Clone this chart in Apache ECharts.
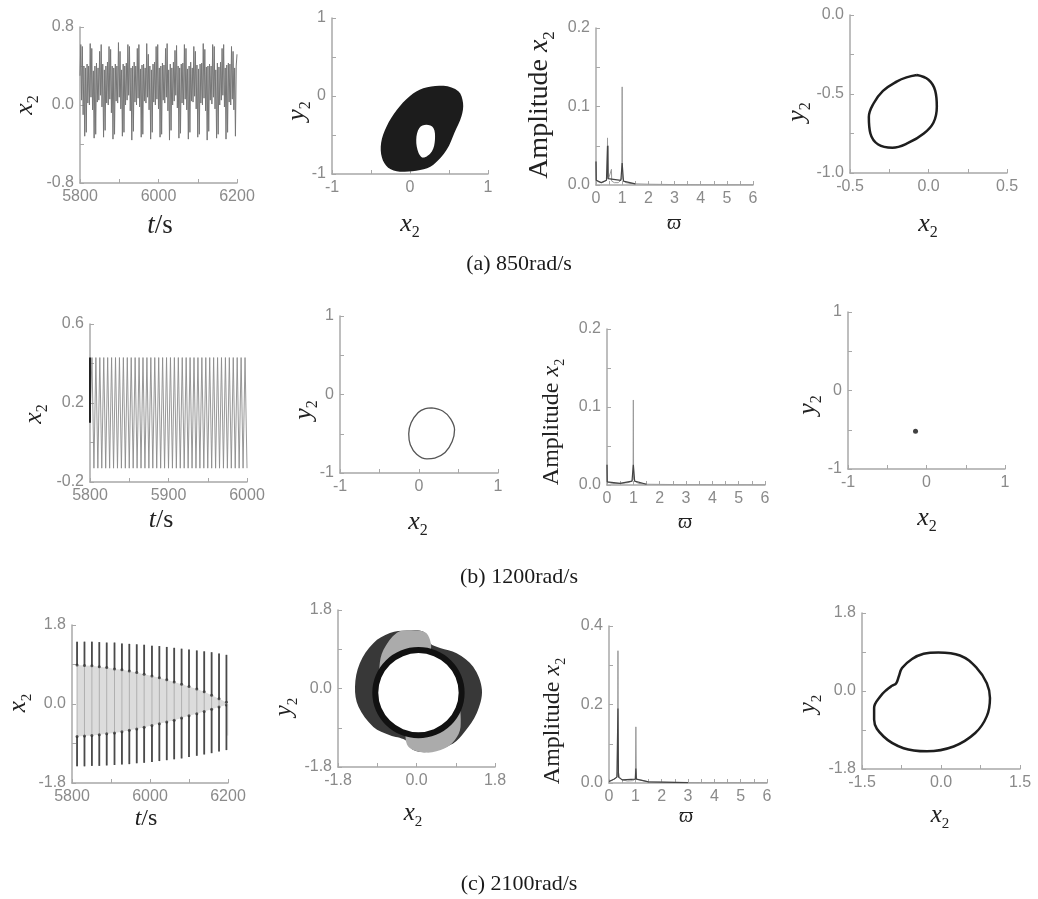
<!DOCTYPE html>
<html><head><meta charset="utf-8">
<script src="https://cdn.jsdelivr.net/npm/echarts@6.0.0/dist/echarts.min.js"></script>
<style>html,body{margin:0;padding:0;background:#fff}#c{width:1038px;height:899px}</style>
</head><body><div id="c"></div>
<script>
// ---------- DATA ----------
const captions = ['(a) 850rad/s', '(b) 1200rad/s', '(c) 2100rad/s'];

// (a) time history x2(t)
const aT = [5800,5802,5804,5806,5808,5810,5812,5814,5816,5818,
5820,5822,5824,5826,5828,5830,5832,5834,5836,5838,
5840,5842,5844,5846,5848,5850,5852,5854,5856,5858,
5860,5862,5864,5866,5868,5870,5872,5874,5876,5878,
5880,5882,5884,5886,5888,5890,5892,5894,5896,5898,
5900,5902,5904,5906,5908,5910,5912,5914,5916,5918,
5920,5922,5924,5926,5928,5930,5932,5934,5936,5938,
5940,5942,5944,5946,5948,5950,5952,5954,5956,5958,
5960,5962,5964,5966,5968,5970,5972,5974,5976,5978,
5980,5982,5984,5986,5988,5990,5992,5994,5996,5998,
6000,6002,6004,6006,6008,6010,6012,6014,6016,6018,
6020,6022,6024,6026,6028,6030,6032,6034,6036,6038,
6040,6042,6044,6046,6048,6050,6052,6054,6056,6058,
6060,6062,6064,6066,6068,6070,6072,6074,6076,6078,
6080,6082,6084,6086,6088,6090,6092,6094,6096,6098,
6100,6102,6104,6106,6108,6110,6112,6114,6116,6118,
6120,6122,6124,6126,6128,6130,6132,6134,6136,6138,
6140,6142,6144,6146,6148,6150,6152,6154,6156,6158,
6160,6162,6164,6166,6168,6170,6172,6174,6176,6178,
6180,6182,6184,6186,6188,6190,6192,6194,6196,6198,6200];
const aV = [0.30,0.62,0.05,0.60,-0.10,0.40,-0.32,0.38,-0.28,0.42,
0.02,0.40,0.00,0.63,0.08,0.58,-0.05,0.35,-0.34,0.40,
-0.30,0.43,0.03,0.38,0.05,0.55,0.10,0.62,-0.02,0.42,
-0.33,0.36,-0.26,0.40,0.02,0.44,0.00,0.60,0.06,0.57,
-0.08,0.40,-0.35,0.38,-0.30,0.42,0.04,0.40,0.02,0.64,
0.08,0.55,-0.04,0.36,-0.32,0.42,-0.28,0.40,0.00,0.43,
0.05,0.62,0.10,0.60,-0.06,0.38,-0.36,0.40,-0.27,0.44,
0.03,0.40,0.00,0.58,0.07,0.62,-0.02,0.37,-0.33,0.41,
-0.30,0.42,0.04,0.38,0.02,0.63,0.08,0.52,-0.05,0.40,
-0.35,0.36,-0.28,0.42,0.03,0.44,0.00,0.60,0.06,0.62,
-0.04,0.38,-0.33,0.40,-0.30,0.43,0.05,0.41,0.02,0.58,
0.08,0.63,-0.06,0.36,-0.36,0.42,-0.26,0.38,0.00,0.44,
0.04,0.56,0.10,0.61,-0.03,0.40,-0.34,0.38,-0.29,0.42,
0.02,0.43,0.00,0.62,0.06,0.58,-0.05,0.37,-0.35,0.40,
-0.28,0.44,0.04,0.38,0.03,0.60,0.09,0.55,-0.04,0.41,
-0.33,0.37,-0.30,0.42,0.02,0.43,0.00,0.63,0.07,0.57,
-0.06,0.39,-0.36,0.40,-0.27,0.42,0.05,0.40,0.01,0.62,
0.08,0.60,-0.04,0.36,-0.34,0.43,-0.30,0.39,0.00,0.44,
0.05,0.58,0.10,0.62,-0.02,0.38,-0.35,0.41,-0.28,0.43,
0.03,0.42,0.00,0.60,0.06,0.55,-0.05,0.38,-0.32,0.40,0.52];

// (a) phase portrait (torus band)
const aTorusOut = [[0.17,0.10],[0.43,0.13],[0.62,0.06],[0.68,-0.09],[0.66,-0.26],[0.57,-0.47],[0.47,-0.69],[0.30,-0.88],[0.13,-0.95],[-0.13,-0.97],[-0.28,-0.92],[-0.36,-0.79],[-0.37,-0.60],[-0.30,-0.39],[-0.17,-0.18],[0.0,0.0]];
const aTorusIn = [[0.21,-0.37],[0.30,-0.41],[0.32,-0.56],[0.28,-0.71],[0.17,-0.79],[0.11,-0.73],[0.08,-0.56],[0.12,-0.41]];

// (a) spectrum
const aSpec = [[0,0.030],[0.01,0.006],[0.1,0.004],[0.2,0.003],[0.3,0.004],[0.4,0.006],[0.43,0.012],[0.44,0.060],[0.45,0.010],[0.47,0.050],[0.48,0.008],[0.55,0.006],[0.59,0.020],[0.60,0.005],[0.7,0.003],[0.85,0.003],[0.95,0.006],[0.99,0.010],[1.00,0.125],[1.01,0.010],[1.05,0.005],[1.15,0.003],[1.3,0.002],[1.5,0.0015],[2.0,0.001],[2.5,0.0008],[3.0,0.0005],[4.0,0.0003],[6.0,0.0002]];
const aSpecDark = [[0,0.030],[0.01,0.006],[0.2,0.003],[0.4,0.006],[0.44,0.050],[0.46,0.008],[0.95,0.006],[1.00,0.028],[1.05,0.005],[1.5,0.0015]];

// (a) Poincare section
const aLoop = [[-0.074,-0.38],[0.0,-0.41],[0.043,-0.48],[0.053,-0.58],[0.032,-0.68],[-0.03,-0.75],[-0.13,-0.81],[-0.23,-0.84],[-0.32,-0.82],[-0.37,-0.75],[-0.38,-0.645],[-0.35,-0.56],[-0.29,-0.48],[-0.20,-0.42],[-0.14,-0.395]];

// (b) time history
const bT = [5800,5802.5,5805,5807.5,5810,5812.5,5815,5817.5,5820,5822.5,
5825,5827.5,5830,5832.5,5835,5837.5,5840,5842.5,5845,5847.5,
5850,5852.5,5855,5857.5,5860,5862.5,5865,5867.5,5870,5872.5,
5875,5877.5,5880,5882.5,5885,5887.5,5890,5892.5,5895,5897.5,
5900,5902.5,5905,5907.5,5910,5912.5,5915,5917.5,5920,5922.5,
5925,5927.5,5930,5932.5,5935,5937.5,5940,5942.5,5945,5947.5,
5950,5952.5,5955,5957.5,5960,5962.5,5965,5967.5,5970,5972.5,
5975,5977.5,5980,5982.5,5985,5987.5,5990,5992.5,5995,5997.5,6000];
const bV = [0.10,0.43,-0.13,0.43,-0.13,0.43,-0.13,0.43,-0.13,0.43,
-0.13,0.43,-0.13,0.43,-0.13,0.43,-0.13,0.43,-0.13,0.43,
-0.13,0.43,-0.13,0.43,-0.13,0.43,-0.13,0.43,-0.13,0.43,
-0.13,0.43,-0.13,0.43,-0.13,0.43,-0.13,0.43,-0.13,0.43,
-0.13,0.43,-0.13,0.43,-0.13,0.43,-0.13,0.43,-0.13,0.43,
-0.13,0.43,-0.13,0.43,-0.13,0.43,-0.13,0.43,-0.13,0.43,
-0.13,0.43,-0.13,0.43,-0.13,0.43,-0.13,0.43,-0.13,0.43,
-0.13,0.43,-0.13,0.43,-0.13,0.43,-0.13,0.43,-0.13,0.43,-0.13];
const bStart = [[5800,0.10],[5800,0.43]];

// (b) phase portrait, spectrum, Poincare point
const bCircle = [[0.16,-0.17],[0.30,-0.21],[0.40,-0.31],[0.45,-0.45],[0.42,-0.60],[0.33,-0.74],[0.20,-0.81],[0.10,-0.82],[-0.03,-0.76],[-0.11,-0.64],[-0.13,-0.50],[-0.10,-0.36],[-0.01,-0.23],[0.08,-0.18]];
const bSpec = [[0,0.026],[0.01,0.004],[0.2,0.002],[0.5,0.002],[0.8,0.003],[0.95,0.005],[0.99,0.008],[1.00,0.109],[1.01,0.008],[1.05,0.005],[1.2,0.002],[1.5,0.001],[2.0,0.0008],[3.0,0.0004],[6.0,0.0002]];
const bSpecDark = [[0,0.026],[0.01,0.004],[0.5,0.002],[0.95,0.005],[1.00,0.026],[1.05,0.005],[1.5,0.001]];
const bPoint = [[-0.14,-0.52]];

// (c) time history: cycle times, peak/trough ends and the two dotted envelopes
const cT = [5813,5832,5851,5870,5889,5909,5928,5947,5966,5985,6005,6024,6043,6062,6081,6100,6120,6139,6158,6177,6196];
const cTop = [1.42,1.42,1.42,1.41,1.40,1.40,1.38,1.37,1.36,1.35,1.33,1.32,1.30,1.28,1.26,1.24,1.22,1.20,1.18,1.15,1.12];
const cUp = [0.89,0.88,0.87,0.85,0.83,0.80,0.78,0.75,0.72,0.68,0.64,0.60,0.55,0.50,0.45,0.40,0.34,0.28,0.20,0.12,0.04];
const cLow = [-0.74,-0.73,-0.72,-0.70,-0.68,-0.66,-0.63,-0.60,-0.57,-0.53,-0.49,-0.45,-0.41,-0.37,-0.32,-0.27,-0.22,-0.17,-0.12,-0.07,-0.02];
const cBot = [-1.42,-1.42,-1.41,-1.41,-1.40,-1.39,-1.38,-1.37,-1.35,-1.34,-1.32,-1.30,-1.28,-1.26,-1.24,-1.21,-1.18,-1.15,-1.12,-1.08,-1.05];
const cTail = [[6199,0.0],[6199,-0.72]];

// (c) phase portrait regions
const cRingOut = [[-0.22,1.33],[0.16,1.30],[0.31,1.04],[0.54,0.93],[0.92,0.81],[1.30,0.50],[1.50,-0.03],[1.38,-0.57],[1.10,-1.00],[0.84,-1.26],[0.31,-1.45],[-0.07,-1.41],[-0.26,-1.18],[-0.61,-1.07],[-0.99,-0.88],[-1.33,-0.42],[-1.41,0.04],[-1.30,0.58],[-0.99,1.04],[-0.61,1.27]];
const cLightTop = [[-0.45,1.28],[-0.15,1.33],[0.195,1.29],[0.31,1.11],[0.31,0.88],[-0.07,0.88],[-0.45,0.79],[-0.70,0.58],[-0.82,0.195],[-0.85,0.50],[-0.76,0.88]];
const cLightBot = [[-0.24,-0.89],[-0.19,-1.33],[0.23,-1.47],[0.65,-1.37],[0.88,-1.18],[1.01,-0.88],[0.96,-0.26],[0.84,-0.57],[0.61,-0.91],[0.23,-1.10],[-0.11,-1.07]];
const cHole = [[1.035,-0.095],[0.96,0.28],[0.745,0.595],[0.424,0.806],[0.045,0.88],[-0.334,0.806],[-0.655,0.595],[-0.87,0.28],[-0.945,-0.095],[-0.87,-0.47],[-0.655,-0.785],[-0.334,-0.996],[0.045,-1.07],[0.424,-0.996],[0.745,-0.785],[0.96,-0.47]];

// (c) spectrum
const cSpec = [[0,0.004],[0.1,0.006],[0.2,0.010],[0.3,0.015],[0.33,0.030],[0.34,0.337],[0.35,0.030],[0.4,0.015],[0.5,0.008],[0.7,0.005],[0.9,0.006],[1.00,0.010],[1.02,0.143],[1.04,0.010],[1.1,0.006],[1.5,0.003],[2.0,0.002],[2.5,0.0015],[3.0,0.001],[6.0,0.0005]];
const cSpecDark = [[0,0.004],[0.2,0.010],[0.3,0.015],[0.34,0.19],[0.36,0.015],[0.5,0.008],[1.00,0.010],[1.02,0.037],[1.04,0.010],[1.5,0.003],[3.0,0.001]];

// (c) Poincare section
const cLoop = [[-0.05,0.89],[0.36,0.82],[0.68,0.53],[0.87,0.18],[0.93,-0.16],[0.87,-0.58],[0.65,-0.97],[0.24,-1.28],[-0.27,-1.39],[-0.71,-1.32],[-1.09,-1.05],[-1.27,-0.66],[-1.27,-0.39],[-1.15,-0.12],[-1.03,0.03],[-0.93,0.12],[-0.85,0.18],[-0.80,0.34],[-0.74,0.53],[-0.55,0.74],[-0.33,0.86]];

// ---------- LAYOUT ----------
// grid [left, top, width, height]; axis [min, max, tick step, label step, decimals]
const panels = [
 {g:[80,27,157,156],  x:[5800,6200,100,200,0], y:[-0.8,0.8,0.4,0.8,1]},
 {g:[332,18,156,156], x:[-1,1,0.5,1,0],        y:[-1,1,0.5,1,0]},
 {g:[596,28,157,157], x:[0,6,0.5,1,0],         y:[0,0.2,0.05,0.1,1]},
 {g:[850,15,157,158], x:[-0.5,0.5,0.25,0.5,1], y:[-1,0,0.25,0.5,1]},
 {g:[90,324,157,158], x:[5800,6000,50,100,0],  y:[-0.2,0.6,0.2,0.4,1]},
 {g:[340,316,158,157],x:[-1,1,0.5,1,0],        y:[-1,1,0.5,1,0]},
 {g:[607,329,158,156],x:[0,6,0.5,1,0],         y:[0,0.2,0.05,0.1,1]},
 {g:[848,312,157,157],x:[-1,1,0.5,1,0],        y:[-1,1,0.5,1,0]},
 {g:[72,625,156,158], x:[5800,6200,100,200,0], y:[-1.8,1.8,0.9,1.8,1]},
 {g:[338,610,157,157],x:[-1.8,1.8,0.9,1.8,1],  y:[-1.8,1.8,0.9,1.8,1]},
 {g:[609,626,158,157],x:[0,6,0.5,1,0],         y:[0,0.4,0.1,0.2,1]},
 {g:[862,613,158,156],x:[-1.5,1.5,0.75,1.5,1], y:[-1.8,1.8,0.9,1.8,1]}
];
const nameLayout = [
 [25,105,1,'x2',26],[160,226,0,'ts',27],[297,111,1,'y2',26],[410,224,0,'x2',26],[540,105,1,'amp',28],[674,224,0,'w',20],[797,112,1,'y2',26],[928,224,0,'x2',26],
 [34,414,1,'x2',26],[161,520,0,'ts',26],[304,410,1,'y2',26],[418,522,0,'x2',26],[552,422,1,'amp',24],[685,523,0,'w',20],[808,405,1,'y2',26],[927,518,0,'x2',26],
 [18,703,1,'x2',25],[146,819,0,'ts',24],[284,707,1,'y2',25],[413,813,0,'x2',25],[553,721,1,'amp',24],[686,817,0,'w',20],[808,704,1,'y2',25],[940,815,0,'x2',25]
];
const captionY = [264,577,884];

// ---------- BUILD ----------
const SERIF = "'Liberation Serif','DejaVu Serif',serif";
const SANS = "'Liberation Sans',Arial,sans-serif";
function mkAxis(i, a) {
  const [min,max,step,lab,dec] = a;
  return {
    type:'value', gridIndex:i, min, max, interval:step,
    splitLine:{show:false},
    axisLine:{onZero:false, lineStyle:{color:'#a8a8a8', width:1.5}},
    axisTick:{inside:true, length:4, lineStyle:{color:'#a8a8a8', width:1}},
    axisLabel:{color:'#8a8a8a', fontSize:16, fontFamily:SANS, margin:6,
      showMinLabel:true, showMaxLabel:true,
      formatter:function(v){
        const k=(v-min)/lab;
        if (Math.abs(k-Math.round(k))>1e-6) return '';
        if (Math.abs(v)<1e-9) v=0;
        return v.toFixed(dec);
      }}
  };
}
const grids = panels.map(p=>({left:p.g[0], top:p.g[1], width:p.g[2], height:p.g[3]}));
const xAxes = panels.map((p,i)=>mkAxis(i,p.x));
const yAxes = panels.map((p,i)=>mkAxis(i,p.y));

function line(i, data, color, w, extra) {
  return Object.assign({type:'line', xAxisIndex:i, yAxisIndex:i, data, symbol:'none', showSymbol:false,
    lineStyle:{color, width:w}, silent:true, animation:false}, extra||{});
}
function poly(i, pts, fill, stroke, lw, sm) {
  return {type:'custom', xAxisIndex:i, yAxisIndex:i, data:pts, silent:true, animation:false,
    renderItem:function(params, api){
      if (params.dataIndex!==0) return null;
      const P = pts.map(p=>api.coord(p));
      return {type:'polygon', shape:{points:P, smooth:sm==null?0.35:sm},
        style:{fill:fill, stroke:stroke||null, lineWidth:lw||0}};
    }};
}
function segs(i, data, color, w) {
  return {type:'custom', xAxisIndex:i, yAxisIndex:i, data, silent:true, animation:false,
    encode:{x:0, y:[1,2]},
    renderItem:function(params, api){
      const a = api.coord([api.value(0), api.value(1)]);
      const b = api.coord([api.value(0), api.value(2)]);
      return {type:'line', shape:{x1:a[0],y1:a[1],x2:b[0],y2:b[1]}, style:{stroke:color, lineWidth:w}};
    }};
}
const closed = arr => arr.concat([arr[0]]);

const series = [
  // (a)
  line(0, aT.map((t,k)=>[t,aV[k]]), '#767676', 1),
  poly(1, aTorusOut, '#1c1c1c'),
  poly(1, aTorusIn, '#ffffff'),
  line(2, aSpec, '#9a9a9a', 1),
  line(2, aSpecDark, '#444', 1.2),
  line(3, closed(aLoop), '#1e1e1e', 2.5, {smooth:0.4}),
  // (b)
  line(4, bT.map((t,k)=>[t,bV[k]]), '#8c8c8c', 0.9),
  line(4, bStart, '#222', 2),
  line(5, closed(bCircle), '#555', 1.3, {smooth:0.4}),
  line(6, bSpec, '#9a9a9a', 1),
  line(6, bSpecDark, '#444', 1.2),
  {type:'scatter', xAxisIndex:7, yAxisIndex:7, data:bPoint, symbolSize:5, itemStyle:{color:'#111'}, silent:true, animation:false},
  // (c)
  poly(8, cT.map((t,k)=>[t,cUp[k]]).concat(cT.map((t,k)=>[t,cLow[k]]).reverse()), '#dcdcdc', null, 0, 0),
  segs(8, cT.map((t,k)=>[t,cBot[k],cTop[k]]), '#b0b0b0', 1),
  segs(8, cT.map((t,k)=>[t,cUp[k],cTop[k]]), '#4a4a4a', 1.8),
  segs(8, cT.map((t,k)=>[t,cBot[k],cLow[k]]), '#4a4a4a', 1.8),
  line(8, cTail, '#aaa', 1),
  {type:'scatter', xAxisIndex:8, yAxisIndex:8, data:cT.map((t,k)=>[t,cUp[k]]).concat(cT.map((t,k)=>[t,cLow[k]])), symbolSize:3, itemStyle:{color:'#333'}, silent:true, animation:false},
  poly(9, cRingOut, '#383838'),
  poly(9, cLightTop, '#ababab'),
  poly(9, cLightBot, '#ababab'),
  poly(9, cHole, '#ffffff', '#111', 6),
  line(10, cSpec, '#9a9a9a', 1),
  line(10, cSpecDark, '#444', 1.2),
  line(11, closed(cLoop), '#1e1e1e', 2.5, {smooth:0.4})
];

function richFor(s) {
  return {
    i:{fontFamily:SERIF, fontStyle:'italic', fontSize:s, lineHeight:Math.round(s*1.3), verticalAlign:'middle', fill:'#222'},
    n:{fontFamily:SERIF, fontSize:s, lineHeight:Math.round(s*1.3), verticalAlign:'middle', fill:'#222'},
    s:{fontFamily:SERIF, fontSize:Math.round(s*0.6), lineHeight:Math.round(s*1.3), verticalAlign:'bottom', fill:'#222'}
  };
}
const txt = {x2:'{i|x}{s|2}', y2:'{i|y}{s|2}', ts:'{i|t}{n|/s}', amp:'{n|Amplitude }{i|x}{s|2}', w:'{i|ϖ}'};
const graphic = nameLayout.map(n=>({
  type:'text', x:n[0], y:n[1], rotation:n[2]?Math.PI/2:0, silent:true,
  style:{text:txt[n[3]], rich:richFor(n[4]), align:'center', verticalAlign:'middle', textAlign:'center', textVerticalAlign:'middle'}
})).concat(captions.map((c,k)=>({
  type:'text', x:519, y:captionY[k], silent:true,
  style:{text:c, font:'22px '+SERIF, fill:'#1a1a1a', align:'center', verticalAlign:'middle', textAlign:'center', textVerticalAlign:'middle'}
})));

const chart = echarts.init(document.getElementById('c'), null, {renderer:'canvas'});
chart.setOption({animation:false, backgroundColor:'#fff', grid:grids, xAxis:xAxes, yAxis:yAxes, series, graphic});
</script></body></html>
